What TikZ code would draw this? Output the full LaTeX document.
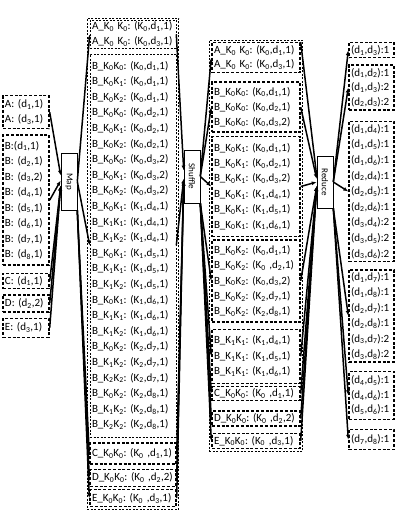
\documentclass[tikz,border=0pt]{standalone}
\usepackage{fontspec}
\setmainfont{Carlito}
\usetikzlibrary{arrows.meta,positioning,fit}
\newcommand{\Kx}[1]{K\textsubscript{#1}}
\newcommand{\dx}[1]{d\textsubscript{#1}}
\frenchspacing
\tikzset{
  grp/.style      = {draw, line width=1.4pt, dash pattern=on 3pt off 1.8pt,
                     align=left, inner xsep=2pt, inner ysep=0pt, anchor=north,
                     font=\fontsize{11}{15.5}\selectfont},
  faint/.style    = {line width=0.6pt, dash pattern=on 2pt off 1.5pt},
  lead/.style     = {font=\fontsize{11}{#1}\selectfont},
  stage/.style    = {draw, line width=0.6pt, inner sep=0pt, minimum width=16pt,
                     font=\fontsize{9}{9}\selectfont},
  colframe/.style = {draw, line width=0.6pt, dash pattern=on 2pt off 1.5pt, inner sep=2pt},
  flow/.style     = {-{Latex[length=5pt,width=4pt]}, line width=1.5pt},
}

\begin{document}
\begin{tikzpicture}[x=1pt, y=-1pt]
\useasboundingbox (0,0) rectangle (415,523);
% input
\node[grp, text width=42pt, minimum height=33pt, lead=15] (lA) at (26,95)
  {A: (\dx1,1)\\A: (\dx3,1)};
\node[grp, text width=42pt, minimum height=130pt, below=5pt of lA] (lB)
  {B:(\dx1,1)\\B: (\dx2,1)\\B: (\dx3,2)\\B: (\dx4,1)\\B: (\dx5,1)\\B: (\dx6,1)\\B: (\dx7,1)\\B: (\dx8,1)};
\node[grp, text width=42pt, minimum height=15pt, below=7pt of lB] (lC) {C: (\dx1,1)};
\node[grp, text width=42pt, minimum height=17pt, below=5pt of lC] (lD) {D: (\dx2,2)};
\node[grp, text width=42pt, minimum height=19pt, below=5pt of lD] (lE) {E: (\dx3,1)};
\node[stage, minimum height=57pt] (map) at (69,181.5) {\rotatebox{-90}{Map}};
% map output
\node[grp, faint, text width=82pt, minimum height=28pt, lead=15] (mA) at (133,20)
  {A\_\Kx0 \Kx0: (\Kx0,\dx1,1)\\A\_\Kx0 \Kx0: (\Kx0,\dx3,1)};
\node[grp, faint, text width=82pt, minimum height=383pt, lead=15.6, below=5pt of mA] (mB)
  {B\_\Kx0\Kx0: (\Kx0,\dx1,1)\\B\_\Kx0\Kx1: (\Kx0,\dx1,1)\\B\_\Kx0\Kx2: (\Kx0,\dx1,1)\\
   B\_\Kx0\Kx0: (\Kx0,\dx2,1)\\B\_\Kx0\Kx1: (\Kx0,\dx2,1)\\B\_\Kx0\Kx2: (\Kx0,\dx2,1)\\
   B\_\Kx0\Kx0: (\Kx0,\dx3,2)\\B\_\Kx0\Kx1: (\Kx0,\dx3,2)\\B\_\Kx0\Kx2: (\Kx0,\dx3,2)\\
   B\_\Kx0\Kx1: (\Kx1,\dx4,1)\\B\_\Kx1\Kx1: (\Kx1,\dx4,1)\\B\_\Kx1\Kx2: (\Kx1,\dx4,1)\\
   B\_\Kx0\Kx1: (\Kx1,\dx5,1)\\B\_\Kx1\Kx1: (\Kx1,\dx5,1)\\B\_\Kx1\Kx2: (\Kx1,\dx5,1)\\
   B\_\Kx0\Kx1: (\Kx1,\dx6,1)\\B\_\Kx1\Kx1: (\Kx1,\dx6,1)\\B\_\Kx1\Kx2: (\Kx1,\dx6,1)\\
   B\_\Kx0\Kx2: (\Kx2,\dx7,1)\\B\_\Kx1\Kx2: (\Kx2,\dx7,1)\\B\_\Kx2\Kx2: (\Kx2,\dx7,1)\\
   B\_\Kx0\Kx2: (\Kx2,\dx8,1)\\B\_\Kx1\Kx2: (\Kx2,\dx8,1)\\B\_\Kx2\Kx2: (\Kx2,\dx8,1)};
\node[grp, text width=82pt, minimum height=21pt, below=5pt of mB] (mC) {C\_\Kx0\Kx0: (\Kx0 ,\dx1,1)};
\node[grp, text width=82pt, minimum height=17pt, below=4pt of mC] (mD) {D\_\Kx0\Kx0: (\Kx0 ,\dx2,2)};
\node[grp, text width=82pt, minimum height=17pt, below=2pt of mD] (mE) {E\_\Kx0\Kx0: (\Kx0 ,\dx3,1)};
\node[colframe, fit=(mA)(mE)] (mframe) {};
\node[stage, minimum height=53pt] (shuf) at (192,176.5) {\rotatebox{-90}{Shuffle}};
% shuffle output
\node[grp, text width=84pt, minimum height=30pt, lead=14] (tA) at (256,42)
  {A\_\Kx0 \Kx0: (\Kx0,\dx1,1)\\A\_\Kx0 \Kx0: (\Kx0,\dx3,1)};
\node[grp, text width=84pt, minimum height=50pt, lead=15, below=8pt of tA] (tB00)
  {B\_\Kx0\Kx0: (\Kx0,\dx1,1)\\B\_\Kx0\Kx0: (\Kx0,\dx2,1)\\B\_\Kx0\Kx0: (\Kx0,\dx3,2)};
\node[grp, text width=84pt, minimum height=100pt, lead=15.4, below=3pt of tB00] (tB01)
  {B\_\Kx0\Kx1: (\Kx0,\dx1,1)\\B\_\Kx0\Kx1: (\Kx0,\dx2,1)\\B\_\Kx0\Kx1: (\Kx0,\dx3,2)\\
   B\_\Kx0\Kx1: (\Kx1,\dx4,1)\\B\_\Kx0\Kx1: (\Kx1,\dx5,1)\\B\_\Kx0\Kx1: (\Kx1,\dx6,1)};
\node[grp, text width=84pt, minimum height=82pt, lead=15.3, below=2pt of tB01] (tB02)
  {B\_\Kx0\Kx2: (\Kx0,\dx1,1)\\B\_\Kx0\Kx2: (\Kx0 ,\dx2,1)\\B\_\Kx0\Kx2: (\Kx0,\dx3,2)\\
   B\_\Kx0\Kx2: (\Kx2,\dx7,1)\\B\_\Kx0\Kx2: (\Kx2,\dx8,1)};
\node[grp, text width=84pt, minimum height=54pt, lead=15.5, below=6pt of tB02] (tB11)
  {B\_\Kx1\Kx1: (\Kx1,\dx4,1)\\B\_\Kx1\Kx1: (\Kx1,\dx5,1)\\B\_\Kx1\Kx1: (\Kx1,\dx6,1)};
\node[grp, text width=84pt, minimum height=14pt, below=2pt of tB11] (tC) {C\_\Kx0\Kx0: (\Kx0 ,\dx1,1)};
\node[grp, text width=84pt, minimum height=15pt, below=9pt of tC] (tD) {D\_\Kx0\Kx0: (\Kx0 ,\dx2,2)};
\node[grp, text width=84pt, minimum height=15pt, below=6pt of tD] (tE) {E\_\Kx0\Kx0: (\Kx0 ,\dx3,1)};
\node[colframe, fit=(tA)(tE)] (tframe) {};
\node[stage, minimum height=52pt] (red) at (325,182) {\rotatebox{-90}{Reduce}};
% reduce output
\node[grp, text width=41pt, minimum height=15pt] (f1) at (371.5,42) {(\dx1,\dx3):1};
\node[grp, text width=41pt, minimum height=45pt, lead=14.5, below=6pt of f1] (f2)
  {(\dx1,\dx2):1\\(\dx1,\dx3):2\\(\dx2,\dx3):2};
\node[grp, text width=41pt, minimum height=140pt, lead=15.6, below=10pt of f2] (f3)
  {(\dx1,\dx4):1\\(\dx1,\dx5):1\\(\dx1,\dx6):1\\(\dx2,\dx4):1\\(\dx2,\dx5):1\\(\dx2,\dx6):1\\
   (\dx3,\dx4):2\\(\dx3,\dx5):2\\(\dx3,\dx6):2};
\node[grp, text width=41pt, minimum height=92pt, lead=15.4, below=7pt of f3] (f4)
  {(\dx1,\dx7):1\\(\dx1,\dx8):1\\(\dx2,\dx7):1\\(\dx2,\dx8):1\\(\dx3,\dx7):2\\(\dx3,\dx8):2};
\node[grp, text width=41pt, minimum height=48pt, lead=14.5, below=8pt of f4] (f5)
  {(\dx4,\dx5):1\\(\dx4,\dx6):1\\(\dx5,\dx6):1};
\node[grp, text width=41pt, minimum height=20pt, below=9pt of f5] (f6) {(\dx7,\dx8):1};
% connectors
\draw[flow] (lA.east) -- ([yshift=6pt]map.west);
\draw[flow] (lB.east) -- ([yshift=1pt]map.west);
\foreach \g in {lC,lD,lE} \draw[flow] (\g.east) -- ([yshift=-4pt]map.west);
\draw[flow] (map.east) -- (mA.west);
\draw[flow] (map.east) -- (mB.west);
\foreach \g in {mC,mD,mE} \draw[flow] (map.south east) -- (\g.west);
\draw[flow] (mA.east) -- ([yshift=6pt]shuf.west);
\draw[flow] (mB.east) -- ([yshift=-2pt]shuf.west);
\foreach \g in {mC,mD,mE} \draw[flow] (\g.east) -- ([yshift=-4pt]shuf.west);
\foreach \g in {tA,tB00,tB01} \draw[flow] (shuf.east) -- (\g.west);
\foreach \g in {tB02,tB11,tC,tD,tE} \draw[flow] (shuf.south east) -- (\g.west);
\draw[flow] (tA.north east) -- ([yshift=6pt]red.west);
\draw[flow] (tB00.east) -- ([yshift=3pt]red.west);
\draw[flow] (tB01.east) -- (red.west);
\foreach \g in {tB02,tB11,tC,tD,tE} \draw[flow] (\g.east) -- ([yshift=-4pt]red.west);
\foreach \g in {f1,f2,f3} \draw[flow] (red.east) -- (\g.west);
\foreach \g in {f4,f5,f6} \draw[flow] (red.south east) -- (\g.west);
\end{tikzpicture}
\end{document}
